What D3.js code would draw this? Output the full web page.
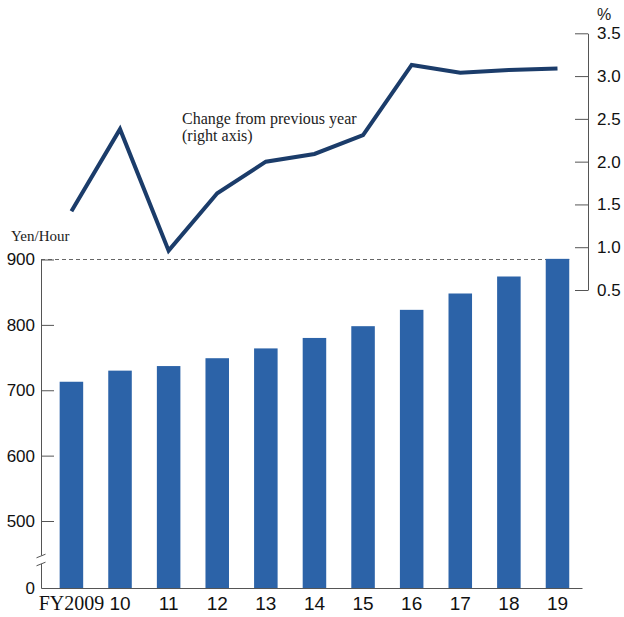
<!DOCTYPE html>
<html>
<head>
<meta charset="utf-8">
<script src="https://cdn.jsdelivr.net/npm/d3@7"></script>
<style>
  html, body { margin: 0; padding: 0; background: #fff; }
  svg { display: block; }
  .narrow { font-family: "Liberation Sans Narrow", "Arial Narrow", "Liberation Sans", sans-serif; }
  .serif { font-family: "Liberation Serif", "Times New Roman", serif; }
</style>
</head>
<body>
<div id="chart"></div>
<script>
// Minimum wage (weighted national average) with year-on-year change line
const YEARS = ["FY2009", "10", "11", "12", "13", "14", "15", "16", "17", "18", "19"];
const WAGE = [713, 730, 737, 749, 764, 780, 798, 823, 848, 874, 901];
const CHANGE = [1.42, 2.38, 0.96, 1.63, 2.00, 2.09, 2.31, 3.13, 3.04, 3.07, 3.09];
const LEFT_TICKS = [0, 500, 600, 700, 800, 900];
const RIGHT_TICKS = [0.5, 1.0, 1.5, 2.0, 2.5, 3.0, 3.5];

const WIDTH = 624;
const HEIGHT = 617;
const X0 = 41, X1 = 582;      // plot left / right edge
const Y_BASE = 588;           // the broken "0" baseline
const AXIS_COLOR = "#555";
const BAR_COLOR = "#2c63a8";
const LINE_COLOR = "#1b3c6a";

const svg = d3.select("#chart").append("svg")
    .attr("width", WIDTH)
    .attr("height", HEIGHT);

// Scales
const x = d3.scaleBand()
    .domain(YEARS)
    .range([X0, X1])
    .paddingInner(0.516)
    .paddingOuter(0.323)
    .align(0.594);

// piecewise: 0 sits on the baseline, 500-900 is the real scale
const y = d3.scaleLinear()
    .domain([0, 500, 900])
    .range([Y_BASE, 521, 259.5]);

const yPct = d3.scaleLinear()
    .domain([0.5, 3.5])
    .range([290, 33.3]);

// 900 reference line
svg.append("line")
    .attr("x1", X0).attr("x2", x(YEARS[YEARS.length - 1]) + x.bandwidth())
    .attr("y1", y(900)).attr("y2", y(900))
    .attr("stroke", "#666")
    .attr("stroke-width", 1)
    .attr("stroke-dasharray", "4,3");

// Bars
svg.selectAll("rect.bar")
    .data(WAGE)
    .join("rect")
    .attr("class", "bar")
    .attr("x", (d, i) => x(YEARS[i]))
    .attr("width", x.bandwidth())
    .attr("y", (d) => y(d))
    .attr("height", (d) => y(0) - y(d))
    .attr("fill", BAR_COLOR);

// Change line (right axis)
const line = d3.line()
    .x((d, i) => x(YEARS[i]) + x.bandwidth() / 2)
    .y((d) => yPct(d));

svg.append("path")
    .datum(CHANGE)
    .attr("d", line)
    .attr("fill", "none")
    .attr("stroke", LINE_COLOR)
    .attr("stroke-width", 4)
    .attr("stroke-linejoin", "miter");

// Left axis
const yAxis = svg.append("g")
    .attr("transform", `translate(${X0},0)`)
    .call(
        d3.axisLeft(y)
            .tickValues(LEFT_TICKS)
            .tickSize(-13)
            .tickSizeOuter(0)
            .tickPadding(6),
    );
yAxis.select(".domain").attr("stroke", AXIS_COLOR);
yAxis.selectAll(".tick line").attr("stroke", AXIS_COLOR);
yAxis.selectAll(".tick").filter((d) => d === 0).select("line").remove();
yAxis.selectAll(".tick text")
    .attr("class", "narrow")
    .attr("font-size", 17)
    .attr("fill", "#111");

// axis break marks
const brk = svg.append("g");
brk.append("rect")
    .attr("x", X0 - 2).attr("y", 555.5)
    .attr("width", 4).attr("height", 8.5)
    .attr("fill", "#fff");
for (const by of [556, 564]) {
    brk.append("line")
        .attr("x1", X0 - 4.5).attr("x2", X0 + 4.5)
        .attr("y1", by + 1.8).attr("y2", by - 1.8)
        .attr("stroke", AXIS_COLOR)
        .attr("stroke-width", 1);
}

// Bottom axis
const xAxis = svg.append("g")
    .attr("transform", `translate(0,${Y_BASE})`)
    .call(d3.axisBottom(x).tickSize(0).tickPadding(8));
xAxis.select(".domain").attr("stroke", AXIS_COLOR);
xAxis.selectAll(".tick text")
    .attr("y", 22)
    .attr("dy", 0)
    .attr("fill", "#111")
    .attr("class", (d) => (d === YEARS[0] ? "serif" : "narrow"))
    .attr("font-size", (d) => (d === YEARS[0] ? 20 : 19));

// Right axis
const yAxisRight = svg.append("g")
    .attr("transform", `translate(588,0)`)
    .call(
        d3.axisRight(yPct)
            .tickValues(RIGHT_TICKS)
            .tickFormat(d3.format(".1f"))
            .tickSize(-13)
            .tickSizeOuter(0)
            .tickPadding(9),
    );
yAxisRight.select(".domain").attr("stroke", AXIS_COLOR);
yAxisRight.selectAll(".tick line").attr("stroke", AXIS_COLOR);
yAxisRight.selectAll(".tick text")
    .attr("class", "narrow")
    .attr("font-size", 17)
    .attr("fill", "#111");

// Unit labels
svg.append("text")
    .attr("class", "serif")
    .attr("x", 11).attr("y", 241)
    .attr("font-size", 15)
    .attr("fill", "#222")
    .text("Yen/Hour");

svg.append("text")
    .attr("class", "narrow")
    .attr("x", 604).attr("y", 20)
    .attr("text-anchor", "middle")
    .attr("font-size", 16)
    .attr("fill", "#222")
    .text("%");

// Line annotation
const note = svg.append("text")
    .attr("class", "serif")
    .attr("x", 182).attr("y", 124)
    .attr("font-size", 16)
    .attr("fill", "#222");
note.append("tspan").attr("x", 182).text("Change from previous year");
note.append("tspan").attr("x", 182).attr("dy", 17).text("(right axis)");
</script>
</body>
</html>
